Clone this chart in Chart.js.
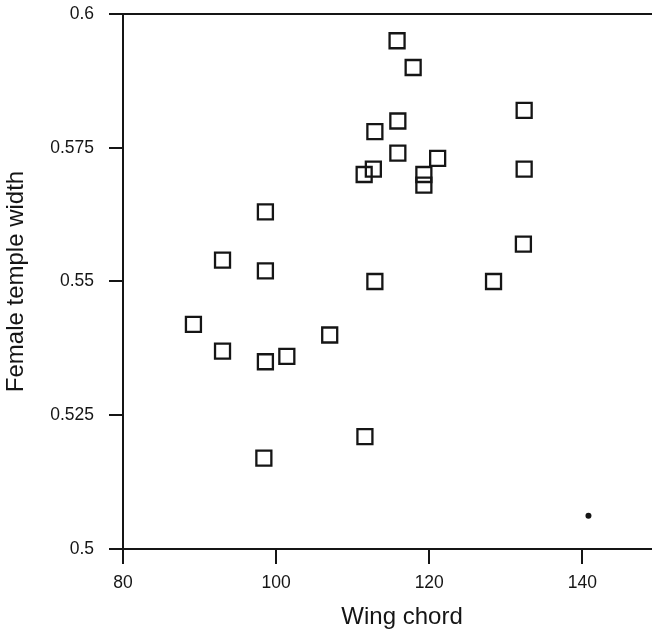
<!DOCTYPE html>
<html>
<head>
<meta charset="utf-8">
<script src="https://cdn.jsdelivr.net/npm/chart.js@4"></script>
<style>
  html, body { margin: 0; padding: 0; background: #fff; overflow: hidden; }
  #wrap { width: 694px; height: 632px; }
</style>
</head>
<body>
<div id="wrap"><canvas id="chart"></canvas></div>
<script>
// wing chord vs female temple width
var wingChord = [98.6, 93.0, 98.6, 89.2, 93.0, 98.6, 101.4, 107.0, 115.8, 117.9, 132.4, 115.9, 112.9,
                 115.9, 121.1, 112.7, 111.5, 119.3, 119.3, 132.4, 132.3, 112.9, 128.4, 111.6, 98.4];
var templeWidth = [0.563, 0.554, 0.552, 0.542, 0.537, 0.535, 0.536, 0.540, 0.595, 0.590, 0.582, 0.580, 0.578,
                   0.574, 0.573, 0.571, 0.570, 0.570, 0.568, 0.571, 0.557, 0.550, 0.550, 0.521, 0.517];
// stray speck in the scan
var speckX = [140.8];
var speckY = [0.5062];

var xTicks = [80, 100, 120, 140];
var yTicks = [0.5, 0.525, 0.55, 0.575, 0.6];

var ink = "#151515";

function toPoints(xs, ys) {
    return xs.map((x, i) => ({x: x, y: ys[i]}));
}

// line along the top of the plot frame
var topFrame = {
    id: "topFrame",
    afterDraw: function (chart) {
        let ctx = chart.ctx;
        let a = chart.chartArea;
        ctx.save();
        ctx.strokeStyle = ink;
        ctx.lineWidth = 2;
        ctx.beginPath();
        ctx.moveTo(a.left, a.top);
        ctx.lineTo(a.right, a.top);
        ctx.stroke();
        ctx.restore();
    }
};

var chart = new Chart("chart", {
    type: "scatter",
    data: {
        datasets: [
            {
                label: "Female temple width",
                data: toPoints(wingChord, templeWidth),
                pointStyle: "rect",
                pointRadius: 10.6,
                pointHoverRadius: 10.6,
                borderColor: ink,
                backgroundColor: "rgba(0,0,0,0)",
                pointBorderWidth: 2.3,
            },
            {
                label: "speck",
                data: toPoints(speckX, speckY),
                pointStyle: "circle",
                pointRadius: 3,
                borderColor: ink,
                backgroundColor: ink,
                pointBorderWidth: 0,
            },
        ]
    },
    options: {
        responsive: true,
        maintainAspectRatio: false,
        animation: false,
        events: [],
        layout: {padding: {top: 14, right: 0, bottom: 0, left: 0}},
        plugins: {
            legend: {display: false},
            tooltip: {enabled: false},
        },
        scales: {
            x: {
                type: "linear",
                min: 80,
                max: 152.9,
                afterBuildTicks: s => { s.ticks = xTicks.map(v => ({value: v})); },
                afterFit: s => {
                    s.height = 83;
                    s.paddingLeft = 0;
                    s.paddingRight = 0;
                },
                grid: {display: true, drawOnChartArea: false, drawTicks: true, tickLength: 15, color: ink, lineWidth: 2},
                border: {display: true, color: ink, width: 2},
                ticks: {
                    color: ink,
                    padding: 9,
                    maxRotation: 0,
                    font: {family: "Liberation Sans", size: 17.5},
                    callback: v => String(v),
                },
                title: {
                    display: true,
                    text: "Wing chord",
                    color: ink,
                    font: {family: "Liberation Sans", size: 24},
                    padding: {top: 0, bottom: 0},
                }
            },
            y: {
                type: "linear",
                min: 0.5,
                max: 0.6,
                afterBuildTicks: s => { s.ticks = yTicks.map(v => ({value: v})); },
                afterFit: s => {
                    s.width = 123;
                    s.paddingTop = 0;
                    s.paddingBottom = 0;
                },
                grid: {display: true, drawOnChartArea: false, drawTicks: true, tickLength: 14, color: ink, lineWidth: 2},
                border: {display: true, color: ink, width: 2},
                ticks: {
                    color: ink,
                    padding: 15,
                    font: {family: "Liberation Sans", size: 17.5},
                    callback: v => String(v),
                },
                title: {
                    display: true,
                    text: "Female temple width",
                    color: ink,
                    font: {family: "Liberation Sans", size: 24},
                    padding: {top: 2, bottom: 0},
                }
            }
        }
    },
    plugins: [topFrame]
});
</script>
</body>
</html>
